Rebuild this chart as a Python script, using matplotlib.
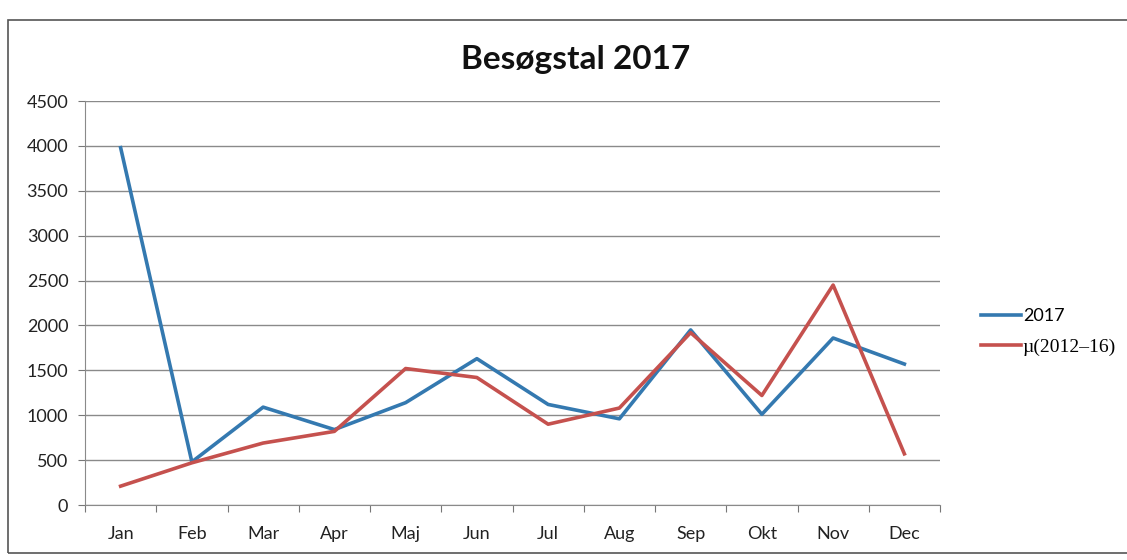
import numpy as np
import matplotlib.pyplot as plt
from matplotlib.patches import Rectangle

# Données
maaneder = ["Jan", "Feb", "Mar", "Apr", "Maj", "Jun", "Jul", "Aug", "Sep", "Okt", "Nov", "Dec"]
besog_2017 = [3980, 480, 1090, 840, 1140, 1630, 1120, 960, 1950, 1010, 1860, 1570]
besog_snit = [210, 470, 690, 820, 1520, 1420, 900, 1080, 1920, 1220, 2450, 570]
y_ticks = [0, 500, 1000, 1500, 2000, 2500, 3000, 3500, 4000, 4500]

plt.rcParams['font.family'] = ['Lato', 'DejaVu Sans']

fig = plt.figure(figsize=(11.27, 5.6), dpi=100)
fig.patches.append(Rectangle((8 / 1127, 7 / 560), 1.2, 533 / 560, transform=fig.transFigure,
                             fill=False, edgecolor='#555555', linewidth=1.2))

ax = fig.add_axes([85 / 1127, 1 - 505 / 560, 855 / 1127, 404 / 560])
x = np.arange(len(maaneder))
ax.plot(x, besog_2017, color='#3479b0', linewidth=2.6, label='2017')
ax.plot(x, besog_snit, color='#c5514e', linewidth=2.6, label='µ(2012–16)')

ax.set_xlim(-0.5, 11.5)
ax.set_ylim(0, 4500)
ax.set_yticks(y_ticks)
ax.set_yticklabels([str(v) for v in y_ticks], fontsize=13, color='#222222')
ax.grid(axis='y', color='#8a8a8a', linewidth=1)
ax.set_axisbelow(True)

# Excel-agtige ticks: streger mellem kategorier, tekst i midten
ax.set_xticks(np.arange(-0.5, 12, 1))
ax.set_xticklabels([])
ax.set_xticks(x, minor=True)
ax.set_xticklabels(maaneder, minor=True, fontsize=13, color='#222222')
ax.tick_params(axis='x', which='major', length=5, color='#777777')
ax.tick_params(axis='x', which='minor', length=0, pad=15)
ax.tick_params(axis='y', length=5, color='#777777', pad=7)

for s in ['top', 'right']:
    ax.spines[s].set_visible(False)
ax.spines['left'].set_color('#8a8a8a')
ax.spines['bottom'].set_color('#8a8a8a')

fig.text(576 / 1127, 1 - 60 / 560, "Besøgstal 2017", ha='center', va='center',
         fontsize=24, fontweight='bold', color='#111111')

leg = ax.legend(loc='center left', bbox_to_anchor=(965 / 1127, 1 - 332 / 560),
                bbox_transform=fig.transFigure, frameon=False, fontsize=13,
                handlelength=2.2, handletextpad=0.1, labelspacing=0.8)
leg.get_texts()[1].set_family('Liberation Serif')
leg.get_texts()[1].set_fontsize(14)

fig.savefig("out.png", dpi=100)
